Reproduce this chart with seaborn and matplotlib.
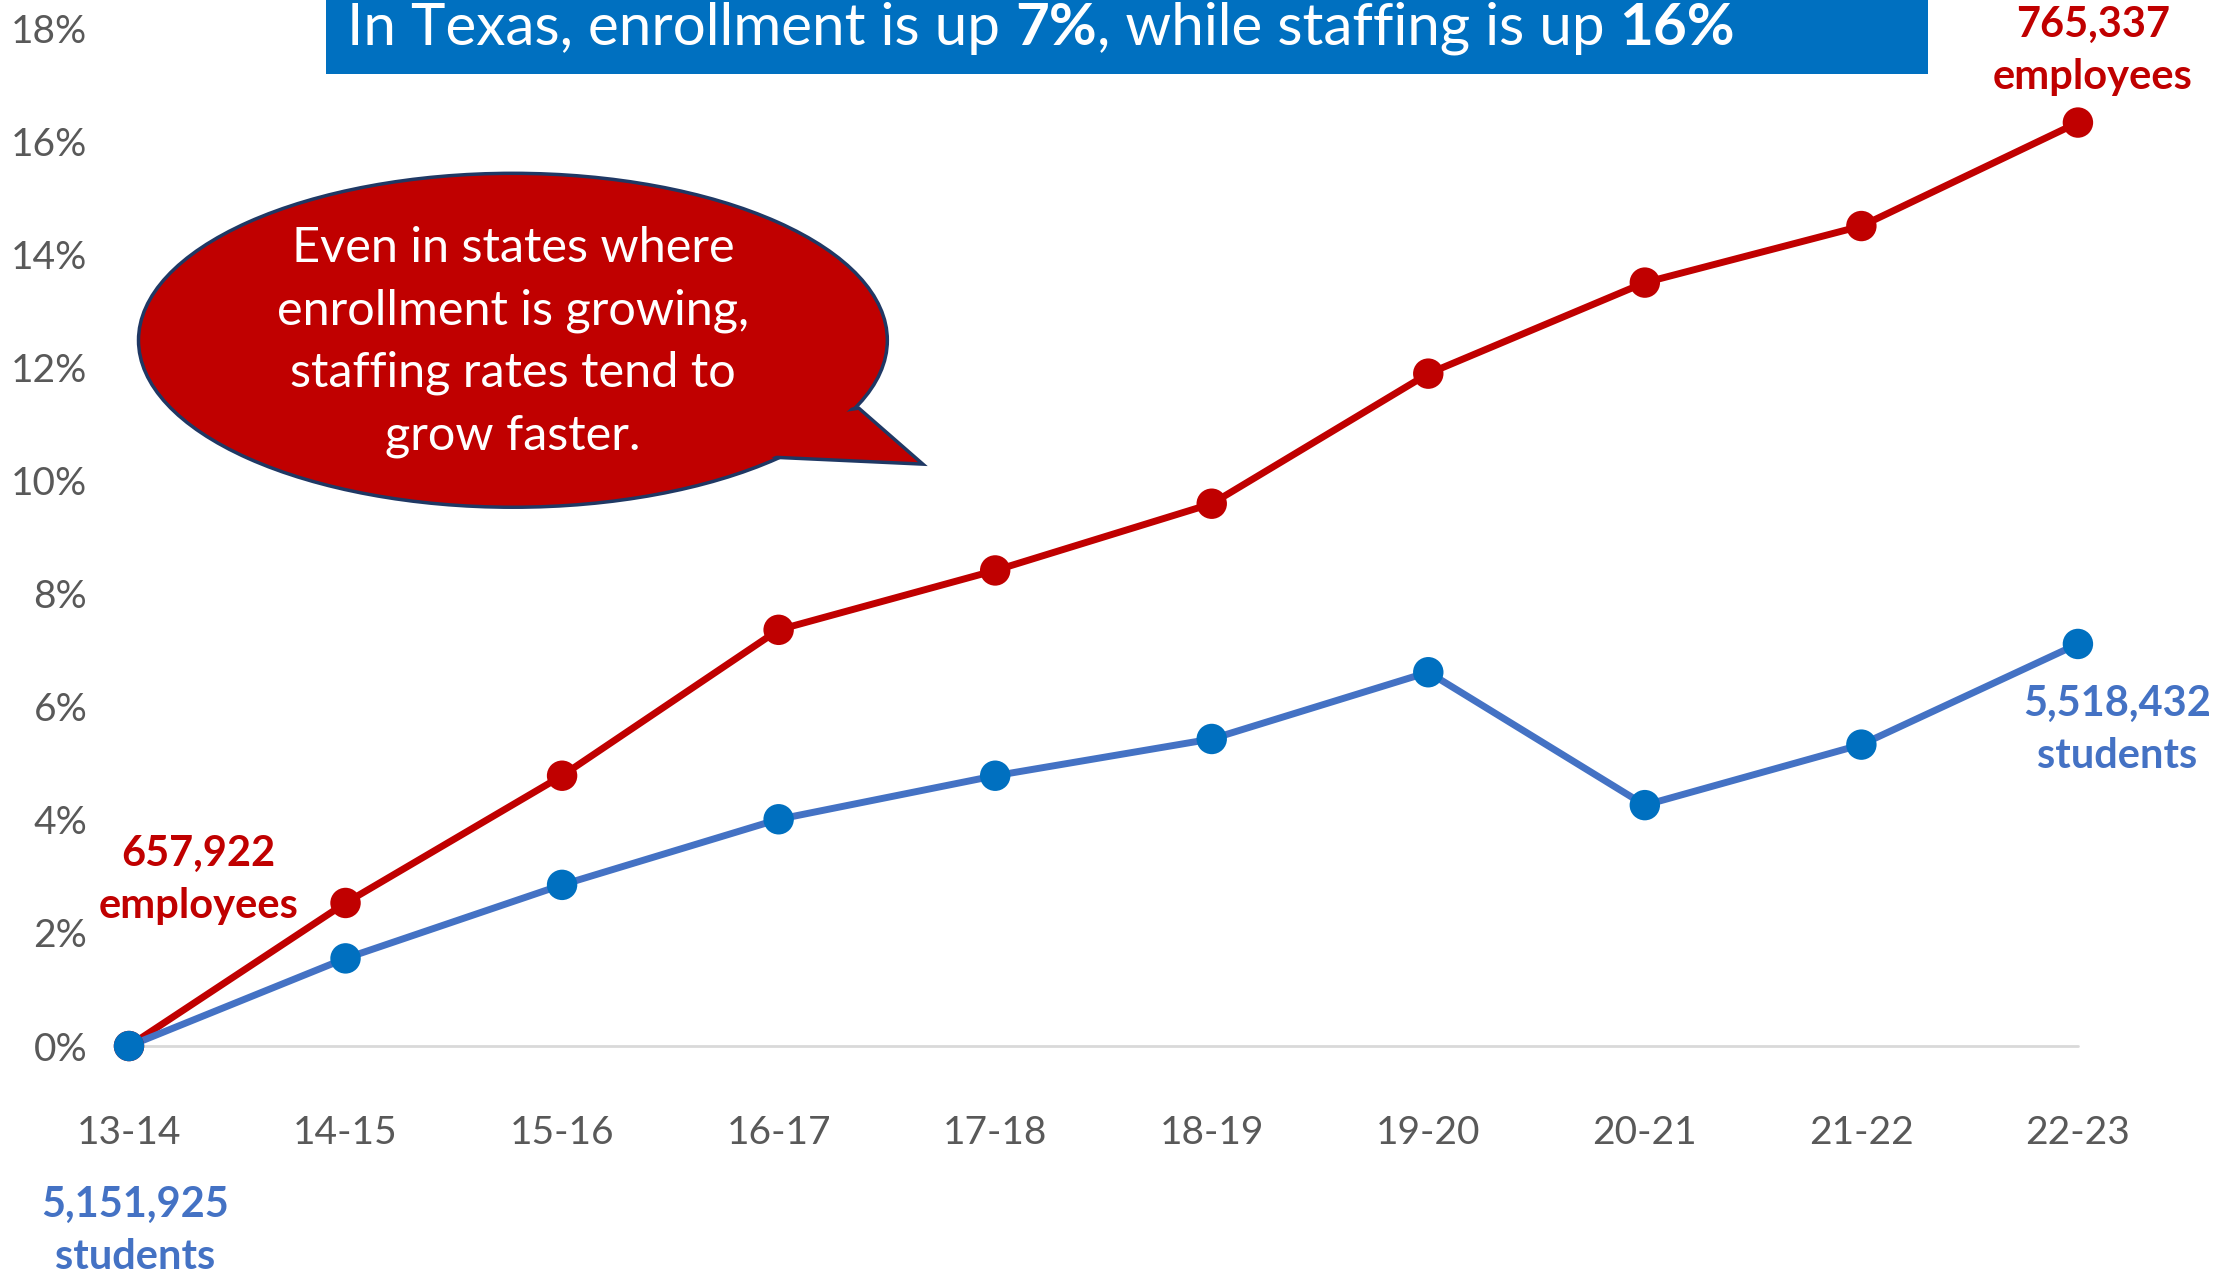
"""Texas enrollment vs staffing growth since 13-14."""

import matplotlib
matplotlib.use("Agg")
import matplotlib.pyplot as plt
from matplotlib.patches import Ellipse, Polygon, Rectangle
import pandas as pd
import seaborn as sns

YEARS = ["13-14", "14-15", "15-16", "16-17", "17-18", "18-19", "19-20", "20-21", "21-22", "22-23"]
STAFF_PCT = [0.0, 2.53, 4.78, 7.36, 8.41, 9.59, 11.89, 13.50, 14.50, 16.33]
ENROLL_PCT = [0.0, 1.55, 2.85, 4.01, 4.78, 5.43, 6.61, 4.26, 5.33, 7.11]
Y_TICKS = list(range(0, 19, 2))

RED = "#C00000"
BLUE_LINE = "#4472C4"
BLUE_DOT = "#0070C0"
TICK_GREY = "#595959"
FONT = ["Lato", "DejaVu Sans"]


def main() -> None:
    sns.set_theme(style="white")
    plt.rcParams["font.family"] = FONT

    df = pd.DataFrame({
        "x": list(range(len(YEARS))) * 2,
        "pct": STAFF_PCT + ENROLL_PCT,
        "series": ["staff"] * len(YEARS) + ["enroll"] * len(YEARS),
    })

    fig = plt.figure(figsize=(22.2, 12.78), dpi=100)
    ax = fig.add_axes([0.0581, 0.1815, 0.8779, 0.7965])

    ax.axhline(0, color="#D9D9D9", lw=2, zorder=0)
    sns.lineplot(data=df, x="x", y="pct", hue="series",
                 palette={"staff": RED, "enroll": BLUE_LINE},
                 lw=5, legend=False, ax=ax, zorder=2)
    sns.scatterplot(data=df, x="x", y="pct", hue="series",
                    palette={"staff": RED, "enroll": BLUE_DOT},
                    s=480, linewidth=0, legend=False, ax=ax, zorder=3)
    for art in ax.lines + ax.collections:
        art.set_clip_on(False)

    ax.set_xlim(0, len(YEARS) - 1)
    ax.set_ylim(0, 18)
    ax.set_xticks(range(len(YEARS)))
    ax.set_xticklabels(YEARS)
    ax.set_yticks(Y_TICKS)
    ax.set_yticklabels([f"{t}%" for t in Y_TICKS])
    ax.tick_params(axis="x", labelsize=28, colors=TICK_GREY, pad=50, length=0)
    ax.tick_params(axis="y", labelsize=28, colors=TICK_GREY, pad=30, length=0)
    ax.set_xlabel("")
    ax.set_ylabel("")
    sns.despine(ax=ax, left=True, bottom=True)

    # end-point labels
    lab = dict(fontsize=30, fontweight="bold", ha="center", va="center",
               linespacing=1.45, clip_on=False)
    ax.text(9.07, 17.6, "765,337\nemployees", color=RED, **lab)
    ax.text(0.32, 2.93, "657,922\nemployees", color=RED, **lab)
    ax.text(9.18, 5.59, "5,518,432\nstudents", color=BLUE_LINE, **lab)
    ax.text(0.03, -3.27, "5,151,925\nstudents", color=BLUE_LINE, **lab)

    # speech bubble
    cx, cy, w, h = 1.773, 12.48, 3.458, 5.905
    ax.add_patch(Ellipse((cx, cy), w, h, facecolor=RED, edgecolor="#1F3864",
                         lw=2.5, zorder=4, clip_on=False))
    ax.add_patch(Polygon([(2.9, 11.0), (3.37, 11.28), (3.666, 10.29), (2.987, 10.41), (2.7, 10.9)],
                         closed=True, facecolor=RED, edgecolor="#1F3864",
                         lw=2.5, zorder=5, clip_on=False))
    ax.add_patch(Ellipse((cx, cy), w - 0.03, h - 0.12, facecolor=RED,
                         edgecolor="none", zorder=6, clip_on=False))
    ax.text(cx, 12.45, "Even in states where\nenrollment is growing,\nstaffing rates tend to\ngrow faster.",
            color="white", fontsize=35, ha="center", va="center",
            linespacing=1.5, zorder=7)

    # title banner
    fig.patches.append(Rectangle((0.1468, 0.9421), 0.7216, 0.0579,
                                 transform=fig.transFigure, facecolor="#0070C0",
                                 edgecolor="none", zorder=0))
    parts = [("In Texas, enrollment is up ", "normal"), ("7%", "bold"),
             (", while staffing is up ", "normal"), ("16%", "bold")]
    fig.canvas.draw()
    rend = fig.canvas.get_renderer()
    x0 = 347
    for s, wt in parts:
        t = fig.text(x0 / 2220, 0.9648, s, color="white", fontsize=42,
                     fontweight=wt, ha="left", va="baseline")
        x0 = t.get_window_extent(rend).x1

    fig.savefig("out.png", dpi=100)
    plt.close(fig)


if __name__ == "__main__":
    main()
